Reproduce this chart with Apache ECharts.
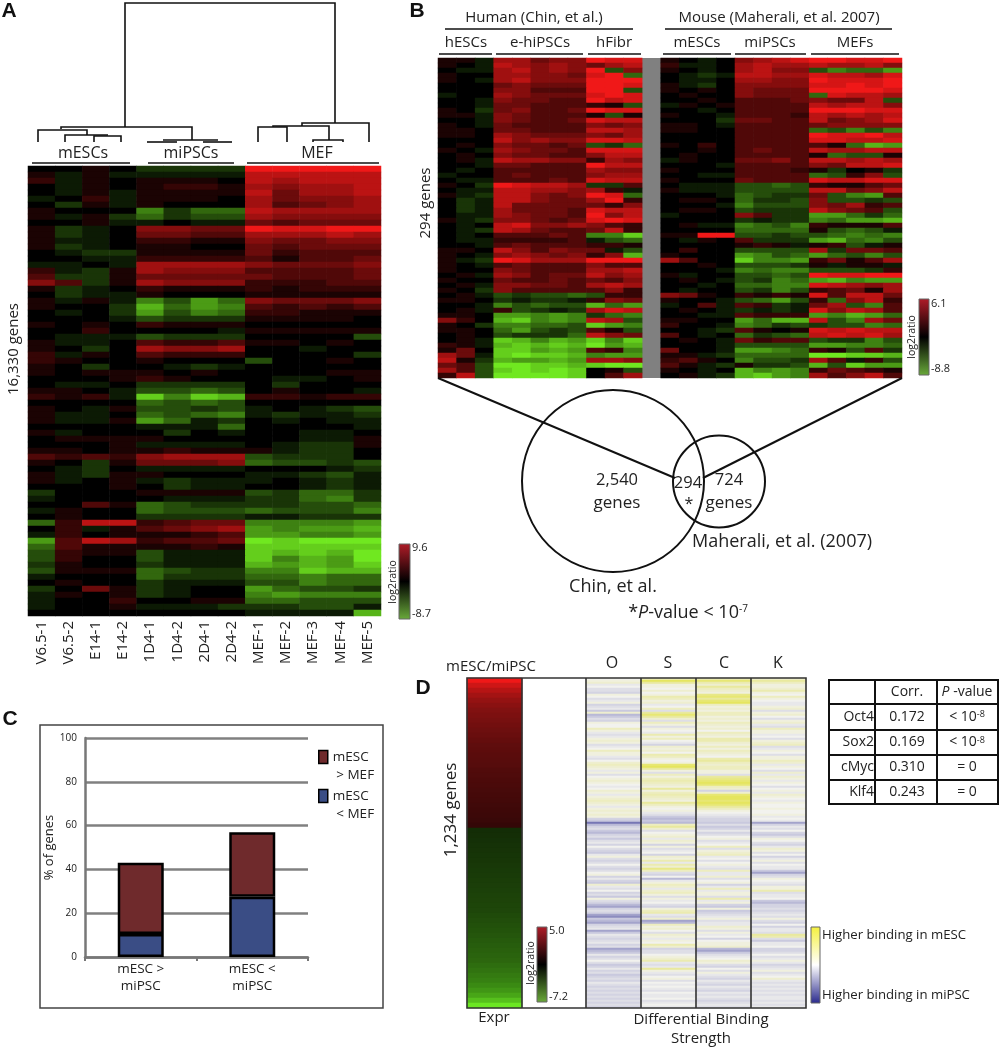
<!DOCTYPE html>
<html><head><meta charset="utf-8">
<style>html,body{margin:0;padding:0;background:#fff}#c{width:1000px;height:1050px}</style>
<script src="https://cdn.jsdelivr.net/npm/echarts@6/dist/echarts.min.js"></script>
</head><body><div id="c"></div>
<script>
const samplesA=['V6.5-1','V6.5-2','E14-1','E14-2','1D4-1','1D4-2','2D4-1','2D4-2','MEF-1','MEF-2','MEF-3','MEF-4','MEF-5'];
const rowsA=[
[0,0,1,0,-2,-2,-2,-2,9,9,9,9,9],[1,-1,1,-1,-1,-1,-1,-1,7,7,7,7,7],[2,-1,1,0,1,1,1,0,7,6,7,7,7],[0,-1,1,0,1,2,2,1,6,5,6,6,7],
[0,-1,1,-1,1,1,1,1,7,4,6,6,7],[-1,0,2,-1,1,1,1,0,6,4,5,5,6],[0,-2,1,-1,1,0,0,0,6,3,4,5,6],[1,0,0,0,-5,-2,-4,-4,7,6,6,6,6],
[1,-1,1,-2,-4,-2,-3,-3,6,5,5,5,5],[0,0,1,-1,-1,0,-1,-1,4,3,4,4,4],[1,-2,-1,0,5,5,4,4,9,8,8,9,9],[1,-2,-1,0,4,4,3,3,6,6,6,7,6],
[1,-1,-1,0,2,2,1,1,5,4,4,5,5],[1,-2,-1,0,1,1,0,0,4,3,4,4,4],[0,-1,-2,-2,1,1,1,1,4,2,3,3,3],[0,0,-1,-1,2,2,2,2,3,1,3,3,4],
[-1,-1,0,-1,6,6,6,6,5,4,4,4,5],[2,-1,-2,1,6,5,5,5,3,3,3,3,4],[3,-2,-2,1,4,4,4,4,4,3,3,3,4],[5,3,-2,1,6,5,5,5,2,2,2,3,3],
[1,-2,-1,0,2,1,1,1,2,1,2,2,2],[0,-2,-1,-1,1,0,0,0,1,1,1,1,1],[1,-1,1,-1,-5,-3,-6,-4,5,4,4,4,5],[1,0,0,-2,-7,-4,-6,-5,3,2,3,2,3],
[0,-1,0,-2,-6,-3,-5,-4,2,2,1,1,1],[0,0,0,-1,-3,-2,-2,-2,1,1,1,1,0],[1,0,1,0,2,1,1,1,0,0,0,0,0],[0,0,2,0,0,0,0,-1,1,1,1,1,1],
[0,-1,-1,-1,-3,-2,-2,-2,0,0,0,0,-3],[1,-1,-1,0,3,2,2,3,1,1,0,1,0],[1,0,-2,0,6,5,5,6,0,0,-1,0,0],[2,-1,1,0,3,2,2,2,0,0,0,0,-2],
[2,1,0,0,1,0,0,0,-3,0,0,1,0],[1,0,-2,0,0,-1,-2,-1,0,0,0,0,0],[1,0,1,1,1,0,1,0,0,0,0,1,1],[0,0,0,1,2,1,0,0,0,-1,-1,0,1],
[0,-1,-1,0,-2,-2,-2,-2,0,-2,0,0,0],[1,1,0,-1,-3,-3,-4,-3,0,1,0,0,-1],[2,1,2,-1,-8,-5,-8,-7,2,2,1,2,2],[0,0,0,0,-4,-3,-4,-3,0,0,0,0,0],
[1,0,-1,1,-3,-3,-2,-3,-1,0,-1,-2,-3],[1,-1,-1,0,-4,-3,-4,-5,-1,-2,-1,-1,-2],[1,-1,-1,1,-6,-4,-1,-2,0,-1,0,-1,-1],[0,0,0,0,-1,-1,-1,-4,0,0,0,0,-1],
[1,-1,0,0,0,-2,0,-1,0,0,-1,-1,0],[0,1,1,1,1,0,0,0,0,0,-1,-1,1],[0,0,0,1,-1,-1,-1,-1,0,-1,-2,-2,1],[1,1,0,1,1,2,1,1,1,-1,-2,-2,0],
[3,2,3,2,5,6,6,6,-3,-2,-2,-2,0],[1,0,-2,1,4,4,4,5,-4,-3,-3,-2,-3],[0,-1,-2,0,-1,-1,-1,-1,0,0,0,-1,-2],[1,-1,-2,1,1,0,0,0,-1,-1,-2,-3,-1],
[1,-1,0,1,-1,-2,-1,-1,-1,0,-1,-2,-1],[0,0,0,1,0,-2,-1,-1,0,0,-1,-2,-1],[-2,0,0,0,1,1,1,1,-3,-2,-4,-4,-2],[-1,0,0,0,0,-1,-1,-1,-2,-2,-4,-5,-2],
[0,0,3,1,-4,-3,-2,-2,-2,-2,-3,-3,-4],[-1,1,0,0,-4,-3,-3,-3,-4,-3,-3,-3,-5],[0,1,0,0,-2,-2,-2,-2,-1,-1,-2,-2,-2],[-4,2,7,7,2,3,4,4,-5,-5,-5,-5,-6],
[0,2,-1,1,3,4,5,6,-6,-5,-6,-6,-7],[-1,2,0,1,1,1,2,3,-6,-6,-5,-5,-6],[-6,3,7,6,2,3,3,4,-9,-8,-9,-9,-9],[-4,3,1,1,1,1,2,1,-8,-8,-8,-8,-8],
[-3,2,1,1,-3,-1,-1,-1,-8,-7,-8,-7,-9],[-3,2,0,0,-3,-1,-1,-1,-8,-5,-7,-6,-9],[-2,1,0,0,-2,-1,-1,-1,-7,-6,-7,-6,-8],[-3,1,1,1,-4,-3,-2,-2,-5,-5,-8,-7,-7],
[-1,0,0,0,-4,-2,-2,-2,-4,-4,-5,-4,-4],[0,1,0,0,-2,-1,-1,-1,-3,-3,-5,-4,-4],[-2,0,4,1,-2,-1,0,0,-6,-4,-3,-3,-2],[-1,1,0,1,-2,-1,0,0,-5,-6,-5,-5,-5],
[-1,0,0,2,0,0,1,1,-4,-4,-3,-3,-3],[-1,0,0,1,-1,-1,-1,-2,-2,-2,-3,-3,-1],[0,0,0,0,0,0,0,0,-1,-1,-1,-1,-7]];
const samplesB=['h1','h2','h3','e1','e2','e3','e4','e5','f1','f2','f3','gap','m1','m2','m3','m4','i1','i2','i3','i4','F1','F2','F3','F4','F5'];
const rowsB=[
[1,1,-1,6,6,4,5,5,9,8,8,1,0,-1,0,5,6,7,8,9,9,8,8,9],[1,0,-1,7,6,5,6,5,4,6,7,2,-1,-1,0,6,7,6,6,7,6,6,7,5],
[0,-1,-1,6,7,5,6,5,9,-3,5,1,0,-1,0,6,7,5,5,-3,-5,-4,-4,-6],[1,0,0,6,6,5,5,4,8,9,-4,0,-1,-2,-1,7,7,6,6,8,7,7,6,8],
[1,0,-1,6,7,5,5,5,9,9,9,0,-1,-1,0,6,6,5,5,9,8,8,8,9],[0,0,0,4,5,4,4,4,9,9,8,1,-1,-2,0,5,5,5,5,8,8,9,8,9],
[0,0,0,5,5,3,3,3,9,9,-3,1,0,1,0,5,4,4,4,9,9,9,9,8],[-1,0,0,6,5,4,4,4,8,9,8,0,1,0,0,5,4,4,4,-4,8,7,7,6],
[0,0,-1,5,4,4,3,3,9,7,8,0,0,1,0,3,3,3,4,5,4,4,7,-3],[0,0,-1,4,4,3,3,3,2,1,-3,-1,1,0,1,3,3,3,3,7,6,7,7,5],
[1,0,-2,4,5,3,3,4,9,8,8,0,0,-1,0,3,3,3,3,9,9,9,8,8],[1,1,-1,5,4,3,3,3,1,-3,1,1,0,0,-1,3,3,3,2,7,6,7,6,7],
[0,0,-1,5,4,3,3,4,8,7,7,0,0,0,-2,4,4,3,3,7,4,5,6,8],[1,0,-1,4,3,3,3,3,5,4,5,1,1,0,-1,3,3,3,3,4,5,5,5,5],
[1,1,0,4,4,3,3,3,7,7,6,1,1,0,0,3,3,3,3,-4,-3,-5,-3,-5],[1,1,0,6,5,4,4,4,5,4,6,0,0,0,0,3,3,3,3,9,8,8,9,7],
[0,0,0,7,5,6,5,5,8,8,7,0,0,0,0,3,3,3,3,8,8,7,7,8],[0,1,0,5,4,4,3,4,-3,-2,-4,1,0,2,0,3,3,3,3,3,1,-4,-7,-6],
[1,0,-1,6,5,4,4,3,8,8,8,0,0,1,0,3,4,3,3,7,6,6,7,7],[0,1,0,5,4,4,3,3,5,7,7,0,1,0,0,3,3,3,3,1,-4,-3,-3,1],
[0,1,-1,7,6,6,5,5,2,6,5,-1,1,0,0,4,4,5,3,7,7,6,7,6],[0,0,-1,4,4,3,3,3,9,7,7,0,0,0,-1,3,3,3,3,5,4,7,7,8],
[0,-1,0,3,3,3,3,3,6,5,5,1,0,0,0,3,3,3,2,1,-2,0,1,-2],[-1,0,0,3,4,3,3,3,5,6,6,0,0,-1,-1,3,3,3,3,-4,-3,2,5,-3],
[0,-1,-1,3,3,3,4,3,8,7,7,1,0,0,0,4,3,3,3,8,7,7,8,8],[1,0,-2,9,8,7,7,6,-2,-2,3,0,-1,-1,-1,-3,-3,-4,-3,2,1,1,3,4],
[0,-1,-1,7,7,6,6,5,6,2,-1,1,-1,-1,-1,-3,-3,-3,-3,7,7,4,5,7],[1,-1,-2,7,7,5,4,5,9,8,-4,0,0,0,-1,-4,-3,-2,-2,4,-3,-5,-6,3],
[0,-2,-1,7,7,5,4,4,6,9,2,0,1,1,0,-4,-2,-2,-3,5,-3,-3,-2,-3],[0,-2,-1,7,4,4,4,4,4,2,5,0,0,0,-1,-5,-3,-3,-3,5,4,6,2,3],
[0,-2,-1,6,4,4,4,3,8,7,7,0,1,1,0,-3,-2,-2,-2,7,5,4,3,-3],[0,-1,-1,6,5,4,4,3,9,5,7,-1,0,0,0,5,3,-2,-2,-6,-6,-4,-2,-4],
[1,-1,-2,5,5,4,3,4,8,9,8,0,0,0,0,-2,-1,-2,-2,-5,-4,-6,-6,-7],[0,-1,0,7,8,5,5,6,5,3,2,0,1,-1,-1,-5,-4,-3,-5,2,1,1,1,3],
[0,-1,-2,7,6,4,3,3,4,7,2,0,0,0,0,-4,-4,-4,-4,1,-3,-4,-3,-1],[0,-1,0,3,3,3,4,3,-5,-5,-8,1,1,9,9,-3,-3,-2,-3,-3,-4,-5,-4,-5],
[0,-1,-1,2,2,2,2,3,-1,-3,-4,0,-1,1,0,3,-2,-2,-2,-6,-7,-4,-5,-3],[0,0,-1,3,4,3,3,3,2,2,1,0,0,0,0,1,2,1,-1,1,2,-3,-1,1],
[1,1,0,7,5,3,5,4,4,-1,-3,0,2,0,0,-3,-3,-3,-3,6,-2,4,4,3],[1,0,-1,5,6,5,4,5,2,5,-7,1,0,0,0,-6,-5,-3,-4,-6,-4,-3,-5,-3],
[1,-1,-2,9,8,6,6,6,9,9,9,6,3,0,0,-8,-5,-5,-6,2,4,1,3,6],[1,0,-1,3,4,3,3,3,5,3,3,0,0,1,0,-3,-3,-3,-2,1,-1,1,1,-1],
[1,0,0,5,4,3,3,3,6,6,7,0,0,0,-1,-5,-4,-5,-5,-3,-3,-3,-2,2],[0,1,-1,6,5,3,4,4,7,5,6,1,-1,0,0,-3,-3,-4,-3,9,8,8,9,9],
[1,0,0,4,3,3,4,3,4,3,5,0,1,0,-1,-3,-2,-5,-4,-6,-7,-5,-6,-6],[0,1,-1,5,5,4,4,3,6,7,6,0,0,-1,0,-4,-4,-5,-5,8,7,6,5,6],
[1,0,-2,5,3,3,3,3,3,5,2,0,-1,0,0,-3,-2,-5,-3,2,3,4,1,6],[0,1,-1,-3,-2,-3,-3,-4,-3,2,2,5,4,1,0,2,1,2,1,8,3,7,7,4],
[1,1,0,-2,-1,-2,-2,-1,2,5,4,1,0,0,-1,-3,-4,-6,-3,2,-4,5,7,2],[0,0,-1,-5,-3,-4,-3,-3,-7,-4,-6,-1,0,3,-1,3,2,-2,-1,4,6,-3,-5,3],
[0,1,-1,2,-3,-2,-1,-2,6,8,7,0,1,0,-1,-2,-1,-2,-1,8,5,7,6,3],[1,1,0,-6,-6,-5,-6,-5,-2,-4,-5,0,0,-1,-1,3,2,2,2,-6,-5,-7,-6,-4],
[5,2,0,-7,-8,-5,-6,-5,7,6,-3,1,1,0,0,-6,-4,-7,-7,7,-3,-5,6,4],[1,0,-2,-5,-5,-4,-4,-3,-8,-6,-5,2,0,0,-1,-5,-4,-2,-3,-2,-3,-3,-5,-4],
[1,1,0,-4,-6,-3,-2,-3,3,1,-3,0,0,-1,-2,3,1,0,1,8,7,8,7,7],[0,1,0,-3,-2,-2,-2,-4,7,5,4,3,0,-1,0,-4,-2,-3,-4,7,8,7,8,6],
[0,1,-1,-8,-7,-5,-7,-6,-8,-5,-8,0,1,0,-1,4,2,3,3,-3,-2,-2,-5,-3],[2,1,-1,-7,-8,-7,-8,-7,-9,-6,-7,0,0,0,-1,-3,-3,-3,-3,-6,-6,-5,-5,-4],
[1,4,0,-8,-8,-6,-7,-6,3,2,-5,4,0,0,-1,-6,-6,-5,-4,2,1,-3,3,-2],[6,4,-1,-8,-9,-8,-8,-7,-5,-6,-6,1,1,-1,-2,-4,-4,-4,-4,-9,-9,-8,-8,-7],
[7,1,-2,-7,-6,-6,-7,-6,6,6,5,2,3,1,0,-5,-3,-3,-2,6,3,-1,2,-3],[4,3,-3,-9,-9,-8,-8,-7,-8,-9,-9,3,1,-1,-2,1,-2,-2,-3,-7,-3,-8,-6,-6],
[6,3,-3,-8,-9,-8,-9,-8,0,1,-3,1,0,-1,0,-7,-5,-6,-5,2,4,3,2,1],[2,7,-3,-9,-9,-9,-9,-8,0,3,6,0,1,-1,-2,-7,-8,-6,-5,6,3,5,7,3]];
const exprValues=[5,4.3,3.8,3.4,3.1,2.9,2.7,2.6,2.5,2.4,2.3,2.2,2.1,2,1.95,1.9,1.85,1.8,1.7,1.65,1.6,1.55,1.5,1.45,1.4,1.35,1.3,1.25,1.2,1.1,
-1.4,-1.45,-1.5,-1.55,-1.6,-1.65,-1.7,-1.75,-1.8,-1.85,-1.9,-1.95,-2,-2.05,-2.1,-2.15,-2.2,-2.3,-2.4,-2.5,-2.6,-2.7,-2.8,-2.9,-3,-3.1,-3.2,-3.4,-3.6,-3.8,-4,-4.3,-4.7,-5.2,-6,-7.2];
const factorsD=['O','S','C','K'];
const rowsD=[
[0,3,3,2],[1,8,7,5],[2,5,4,3],[-1,1,2,1],[0,1,5,1],[-2,0,3,2],[-2,2,2,4],[-3,0,1,1],[1,1,6,0],[0,4,7,3],[-2,3,5,1],[-1,1,7,0],[1,2,8,-1],[-3,-1,3,-1],[-2,0,1,1],[-1,3,2,2],[-4,-2,1,-2],[2,5,3,1],[-5,7,3,2],[-4,5,1,0],
[-2,2,2,-2],[-3,-2,1,1],[1,3,3,2],[0,1,2,-1],[0,-2,1,-2],[3,1,2,3],[1,0,0,1],[-1,-1,3,1],[-2,4,2,-1],[-1,1,1,0],[1,3,4,-2],[2,0,4,1],[1,-1,2,2],[-2,-3,1,3],[-1,2,3,-2],[0,1,1,-1],[3,2,3,1],[1,0,2,0],[1,4,1,-2],[-1,3,0,1],
[-2,1,4,1],[0,0,5,3],[2,1,3,2],[3,7,2,-1],[2,8,3,1],[1,5,3,0],[-1,1,1,-2],[1,-2,1,2],[-2,3,-2,-1],[0,1,5,2],[1,3,6,1],[2,4,7,-1],[1,3,8,1],[0,2,7,0],[-1,1,3,-2],[0,5,2,0],[2,1,-3,1],[1,3,2,-1],[-1,4,7,2],[1,3,8,1],
[2,2,8,0],[3,1,7,-1],[2,5,8,1],[1,3,7,0],[-1,1,5,0],[1,0,3,1],[2,1,1,0],[1,-1,0,0],[2,-2,-1,1],[1,-4,-2,-1],[-3,-5,-3,0],[-4,-4,-3,-1],[-8,-5,-4,-6],[-5,3,-2,-3],[-3,5,-4,-1],[-2,2,-3,-2],[-4,-2,-1,0],[-5,0,-3,-3],[-3,1,-2,-4],[-2,2,0,-2],
[-4,-1,1,1],[-2,2,-2,0],[-1,1,-1,-2],[-3,-3,0,-3],[0,1,3,-1],[-2,-2,-2,2],[-3,-1,1,1],[-4,0,2,-2],[-1,-3,3,0],[1,2,-1,-3],[-2,1,0,-1],[-3,4,-2,1],[-2,-1,0,-2],[0,4,1,0],[-2,2,-1,-1],[-3,6,-2,-1],[-2,3,3,-4],[0,-2,-1,-6],[1,-3,-1,-3],[-3,0,2,-2],
[-1,-5,-2,1],[-3,-1,0,0],[-4,1,1,-1],[2,3,-3,-2],[-1,2,-1,1],[-2,-1,3,1],[0,2,-1,4],[-3,3,1,-2],[-2,1,1,-1],[-4,-2,-2,-1],[1,1,4,0],[-2,-1,-1,-4],[-3,0,1,-5],[-5,-2,-3,-3],[-6,-3,-4,-3],[-3,1,1,-2],[-2,3,-4,-3],[-3,4,-3,-2],[-6,-1,-2,-1],[-7,-2,-1,-2],
[-4,2,1,1],[-5,-6,-2,-2],[-6,-5,-1,-3],[-3,3,-1,0],[-2,1,2,-3],[-1,2,1,-1],[-6,0,-2,-1],[-4,-2,1,-2],[-1,2,-1,5],[-2,1,0,4],[-3,-1,-3,-2],[-2,1,0,-4],[-1,0,1,-1],[-3,4,1,-1],[-2,2,2,0],[-6,-3,-5,-3],[-5,-2,-6,-3],[-4,-2,-4,-2],[-1,0,-2,0],[-3,1,-1,-2],
[-2,2,0,-1],[0,4,2,1],[-2,-1,1,-1],[-4,-2,-2,-3],[-3,-1,-3,-2],[-1,5,0,-1],[-3,1,-2,1],[-2,-1,1,-2],[-4,-2,-1,-1],[-3,0,-2,0],[-2,1,-3,2],[-3,-2,-1,-1],[-1,0,-2,-2],[-2,-1,-3,-1],[-3,0,-1,-2],[-2,-1,-2,-1],[-3,-2,-3,-2],[-2,0,-1,-1],[-3,-1,-2,-2],[-2,-1,-1,-1],
[-3,0,-2,-1],[-2,-2,-3,-2],[-3,-1,-2,-1],[-2,0,-1,-2],[-3,-1,-2,-1]];
const catsC=['mESC >\nmiPSC','mESC <\nmiPSC'];
const lowerC=[10.5,27.5];
const upperC=[32.5,29.5];
const tableRows=[['Oct4','0.172','<'],['Sox2','0.169','<'],['cMyc','0.310','='],['Klf4','0.243','=']];

const FF='"Open Sans",sans-serif', INK='#222';
const cells=(rows,skip)=>{const o=[];rows.forEach((r,i)=>r.forEach((v,j)=>o.push([skip!=null&&j>=skip?j+1:j,i,v])));return o;};
const idx=n=>Array.from({length:n},(_,i)=>i);
const g=[];
const T=(text,x,y,size,o={})=>g.push({type:'text',z:20,x,y,rotation:o.rot?Math.PI/2:0,style:{text,x:0,y:0,fill:o.fill||INK,font:(o.weight||'normal')+' '+size+'px '+(o.ff||FF),align:o.align||'center',verticalAlign:'middle',rich:o.rich}});
const L=(pts,w=1.6,c='#111')=>g.push({type:'polyline',z:20,shape:{points:pts},style:{stroke:c,lineWidth:w,fill:null}});
const R=(x,y,w,h,lw=1.5,c='#222',fill=null)=>g.push({type:'rect',z:20,shape:{x,y,width:w,height:h},style:{stroke:c,lineWidth:lw,fill}});
const C=(cx,cy,r)=>g.push({type:'circle',z:20,shape:{cx,cy,r},style:{stroke:'#111',lineWidth:2,fill:null}});
const bar=(x,y,w,h,stops)=>R(x,y,w,h,1,'#666',{type:'linear',x:0,y:0,x2:0,y2:1,colorStops:stops.map((c,i)=>({offset:i/(stops.length-1),color:c}))});
const RG=['#b01c28','#000','#6aaa3a'];
[['A',9,11],['B',417,11],['C',10,719],['D',423,688]].forEach(a=>T(a[0],a[1],a[2],21,{weight:'bold',ff:'"Liberation Sans",sans-serif',fill:'#111'}));
[[[125,127],[125,3],[335,3],[335,123]],[[61,129],[61,127],[192,127],[192,140]],
[[38,142],[38,130],[87,130],[87,135]],[[65,142],[65,135],[108,135]],[[94,142],[94,136],[121,136],[121,142]],
[[163,140],[218,140]],[[147,142],[177,142]],[[203,142],[232,142]],
[[302,126],[302,123],[369,123],[369,142]],[[273,127],[273,126],[329,126],[329,140]],[[258,142],[258,127],[287,127],[287,142]],[[313,142],[313,140],[343,140],[343,142]]].forEach(p=>L(p));
T('mESCs',83,153,16);T('miPSCs',191,153,16);T('MEF',317,153,16);
L([[32,163],[130,163]]);L([[148,163],[234,163]]);L([[247,163],[379,163]]);
T('16,330 genes',14,349,15,{rot:1});
bar(399,544,11,75,RG);T('9.6',412,548,11,{align:'left'});T('-8.7',412,614,11,{align:'left'});T('log2ratio',393,582,10.5,{rot:1});
T('Human (Chin, et al.)',534,18,15);T('Mouse (Maherali, et al. 2007)',779,18,15);
L([[445,29],[633,29]]);L([[665,29],[892,29]]);
[['hESCs',466],['e-hiPSCs',540],['hFibr',614],['mESCs',697],['miPSCs',770],['MEFs',855]].forEach(a=>T(a[0],a[1],43,15));
[[439,492],[496,583],[588,641],[663,731],[735,806],[811,899]].forEach(a=>L([[a[0],54],[a[1],54]]));
T('294 genes',426,203,15,{rot:1});
bar(919,299,10,76,RG);T('6.1',931,304,11,{align:'left'});T('-8.8',931,369,11,{align:'left'});T('log2ratio',912,337,10.5,{rot:1});
L([[438,378],[675,478]],2);L([[902,378],[703,478]],2);
C(613,481,91);C(719,481.5,46);
T('2,540',617,480,16.5);T('genes',617,503,17);T('294',688,483,16.5);T('*',689,504,16);T('724',729,480,16.5);T('genes',729,503,17);
T('Maherali, et al. (2007)',782,542,18);T('Chin, et al.',613,587,18);
T('{n|*}{i|P}{n|-value < 10}{s|-7}',688,613,18,{rich:{n:{fontSize:18,fontFamily:'Open Sans',fill:INK},i:{fontSize:18,fontFamily:'Open Sans',fontStyle:'italic',fill:INK},s:{fontSize:10,fontFamily:'Open Sans',verticalAlign:'top',fill:INK}}});
R(40,725,343,283,1.5,'#444');
T('mESC/miPSC',491,667,15);
factorsD.forEach((f,i)=>T(f,[612,668,724,778][i],663,16));
T('1,234 genes',451,810,17,{rot:1});T('Expr',494,1018,15);T('Differential Binding',701,1020,15);T('Strength',701,1039,15);
R(467,678,339,330,1.6,'#333');
[522,586,641,696,751].forEach(x=>L([[x,678],[x,1008]],1.6,'#333'));
bar(537,927,10,75,RG);T('5.0',549,931,11,{align:'left'});T('-7.2',549,997,11,{align:'left'});T('log2ratio',531,963,10.5,{rot:1});
bar(811,927,9,76,['#f4f03c','#ffffff','#28288c']);
T('Higher binding in mESC',822,935,13.2,{align:'left'});T('Higher binding in miPSC',822,995,13.2,{align:'left'});
const ty=[680,704,730,755,780,804];
R(829,680,169,124,2,'#111');
ty.slice(1,5).forEach(y=>L([[829,y],[998,y]],2));
[875,937].forEach(x=>L([[x,680],[x,804]],2));
T('Corr.',907,692,14);
T('{i|P} -value',967,692,14,{rich:{i:{fontSize:14,fontStyle:'italic',fontFamily:'Open Sans',fill:INK}}});
const rr={n:{fontSize:14,fontFamily:'Open Sans',fill:INK},s:{fontSize:9,fontFamily:'Open Sans',verticalAlign:'top',fill:INK}};
tableRows.forEach((r,i)=>{const y=(ty[i+1]+ty[i+2])/2;T(r[0],874,y,14,{align:'right'});T(r[1],907,y,14);
 T(r[2]==='<'?'{n|< 10}{s|-8}':'{n|= 0}',967,y,14,{rich:rr});});

const rg=['#70e820','#000000','#f01818'];
const heat=(name,xi,data)=>({type:'heatmap',name,xAxisIndex:xi,yAxisIndex:xi,data,progressive:0,animation:false,emphasis:{disabled:true},itemStyle:{borderWidth:0}});
const hiddenCat=(gi,n,extra={})=>Object.assign({type:'category',gridIndex:gi,data:idx(n),show:false,boundaryGap:true},extra);
const option={animation:false,backgroundColor:'#fff',textStyle:{fontFamily:'Open Sans'},
 grid:[
  {left:28,top:166,width:353,height:450},
  {left:438,top:58,width:464,height:320,show:true,backgroundColor:'#808080',borderWidth:0},
  {left:85,top:738,width:223,height:219},
  {left:467,top:678,width:55,height:330},
  {left:586,top:678,width:220,height:330}],
 xAxis:[
  {type:'category',gridIndex:0,data:samplesA,axisLine:{show:false},axisTick:{show:false},axisLabel:{rotate:90,interval:0,margin:5,fontSize:15,color:INK,fontFamily:'Open Sans'}},
  {type:'category',gridIndex:1,data:samplesB,show:false},
  {type:'category',gridIndex:2,data:catsC,axisLine:{lineStyle:{color:'#777',width:2.5}},axisTick:{show:true,length:4,lineStyle:{color:'#777',width:2}},axisLabel:{interval:0,fontSize:13.5,color:INK,margin:4,lineHeight:17,fontFamily:'Open Sans'}},
  {type:'category',gridIndex:3,data:['Expr'],show:false},
  {type:'category',gridIndex:4,data:factorsD,show:false}],
 yAxis:[
  hiddenCat(0,rowsA.length,{inverse:true}),
  hiddenCat(1,rowsB.length,{inverse:true}),
  {type:'value',gridIndex:2,min:0,max:100,interval:20,axisLine:{show:true,lineStyle:{color:'#777',width:2.5}},axisTick:{show:false},splitLine:{lineStyle:{color:'#808080',width:2.5}},axisLabel:{fontSize:10,color:INK,margin:8,fontFamily:'Open Sans'},name:'% of genes',nameLocation:'middle',nameRotate:90,nameGap:25,nameTextStyle:{fontSize:13,color:INK,fontFamily:'Open Sans'}},
  hiddenCat(3,exprValues.length,{inverse:true}),
  hiddenCat(4,rowsD.length,{inverse:true})],
 legend:{show:true,orient:'vertical',left:318,top:730,padding:0,itemWidth:9,itemHeight:13,itemGap:-15,icon:'rect',selectedMode:false,
  data:[{name:'\nmESC\n > MEF',itemStyle:{color:'#6f2a2c',borderColor:'#000',borderWidth:1.5}},{name:'\nmESC\n < MEF',itemStyle:{color:'#3a4d85',borderColor:'#000',borderWidth:1.5}}],
  textStyle:{fontSize:13.5,color:INK,lineHeight:18,fontFamily:'Open Sans'}},
 visualMap:[
  {show:false,seriesIndex:0,dimension:2,min:-9,max:9,inRange:{color:rg}},
  {show:false,seriesIndex:1,dimension:2,min:-9,max:9,inRange:{color:rg}},
  {show:false,seriesIndex:2,dimension:2,min:-7.5,max:5,inRange:{color:['#70f024','#44a016','#22500b','#000000','#771010','#f01818']}},
  {show:false,seriesIndex:3,dimension:2,min:-9,max:9,inRange:{color:['#6060a8','#c4c4dc','#f2f2ee','#eaeaa8','#e4e44a']}}],
 series:[
  heat('A',0,cells(rowsA)),
  heat('B',1,cells(rowsB,11)),
  heat('Expr',3,exprValues.map((v,i)=>[0,i,v])),
  heat('Binding',4,cells(rowsD)),
  {type:'bar',name:'\nmESC\n < MEF',xAxisIndex:2,yAxisIndex:2,stack:'c',barWidth:46,data:lowerC,animation:false,itemStyle:{color:'#3a4d85',borderColor:'#000',borderWidth:2.5}},
  {type:'bar',name:'\nmESC\n > MEF',xAxisIndex:2,yAxisIndex:2,stack:'c',barWidth:46,data:upperC,animation:false,itemStyle:{color:'#6f2a2c',borderColor:'#000',borderWidth:2.5}}],
 graphic:{elements:g}};
echarts.init(document.getElementById('c'),null,{renderer:'canvas'}).setOption(option);
</script></body></html>
